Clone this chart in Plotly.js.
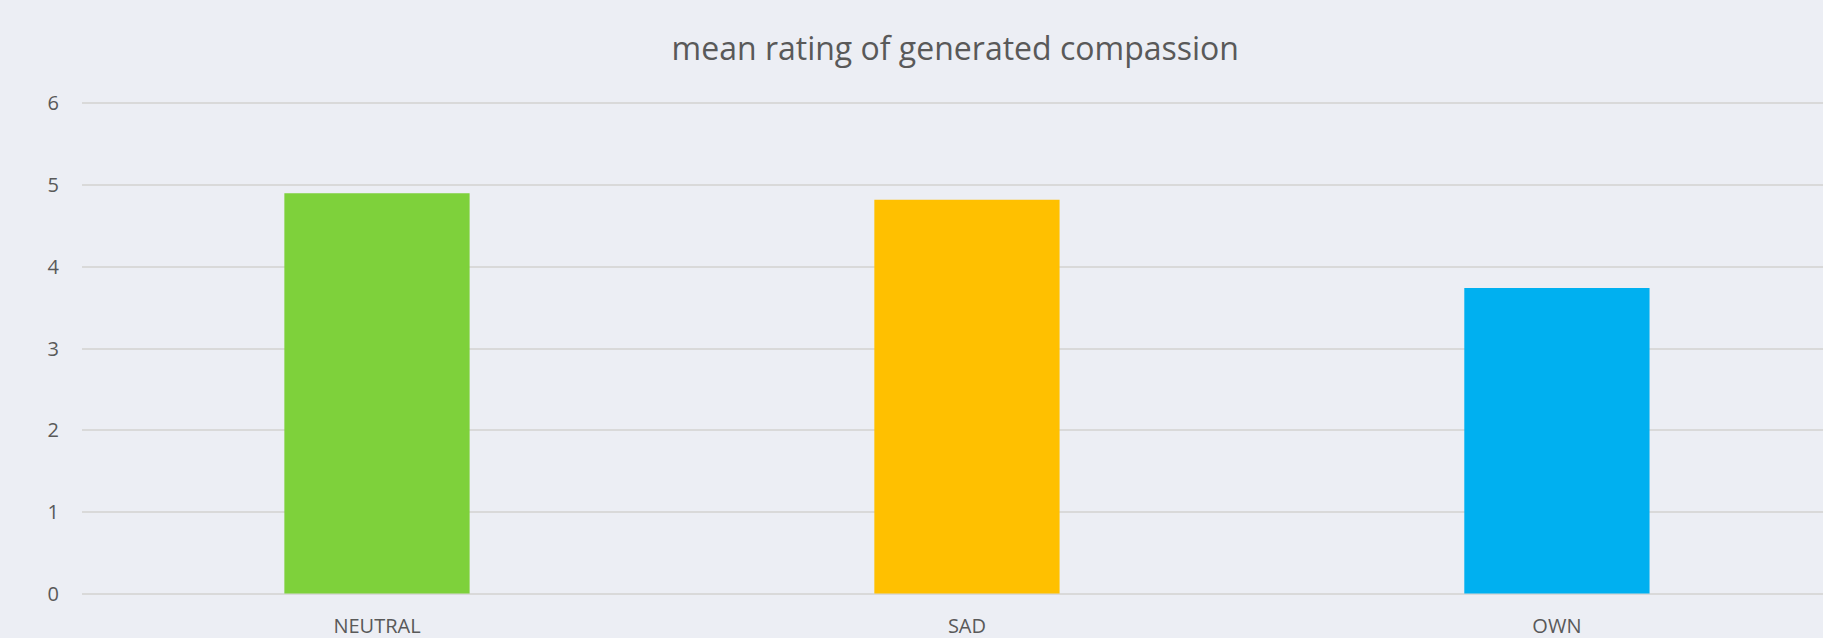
<!DOCTYPE html>
<html><head><meta charset="utf-8">
<script src="https://cdn.plot.ly/plotly-3.0.1.min.js"></script>
<style>html,body{margin:0;padding:0;background:#eceef4;}#chart{width:1823px;height:638px;}</style>
</head><body><div id="chart"></div>
<script>
const categories = ["NEUTRAL", "SAD", "OWN"];
const meanRating = [4.90, 4.82, 3.74];
const barColors = ["#7ed13b", "#ffc000", "#00b0f0"];
const yTicks = [0, 1, 2, 3, 4, 5, 6];

const trace = {
  type: 'bar',
  x: categories,
  y: meanRating,
  marker: {color: barColors, line: {width: 0}},
  hoverinfo: 'x+y'
};

const layout = {
  width: 1823, height: 638,
  paper_bgcolor: '#eceef4', plot_bgcolor: 'rgba(0,0,0,0)',
  margin: {l: 82, r: 0, t: 101, b: 42},
  bargap: 0.686,
  showlegend: false,
  title: {
    text: 'mean rating of generated compassion',
    font: {family: 'Open Sans, sans-serif', size: 32, color: '#595959'},
    xref: 'container', x: 0.524, xanchor: 'center',
    yref: 'container', y: 1 - 49/638, yanchor: 'middle'
  },
  xaxis: {
    type: 'category',
    range: [-0.5, 2.451],
    showgrid: false, zeroline: false, showline: false,
    ticks: '', ticklabelstandoff: 16,
    tickfont: {family: 'Open Sans, sans-serif', size: 20, color: '#595959'}
  },
  yaxis: {
    range: [-0.03, 6.03],
    tickvals: yTicks,
    ticktext: yTicks.map(String),
    showgrid: true, gridcolor: '#d9d9d9', gridwidth: 2,
    zeroline: false, showline: false,
    ticks: '', ticklabelstandoff: 22,
    tickfont: {family: 'Open Sans, sans-serif', size: 20, color: '#595959'}
  }
};

Plotly.newPlot('chart', [trace], layout, {displayModeBar: false, staticPlot: true});
</script>
</body></html>
